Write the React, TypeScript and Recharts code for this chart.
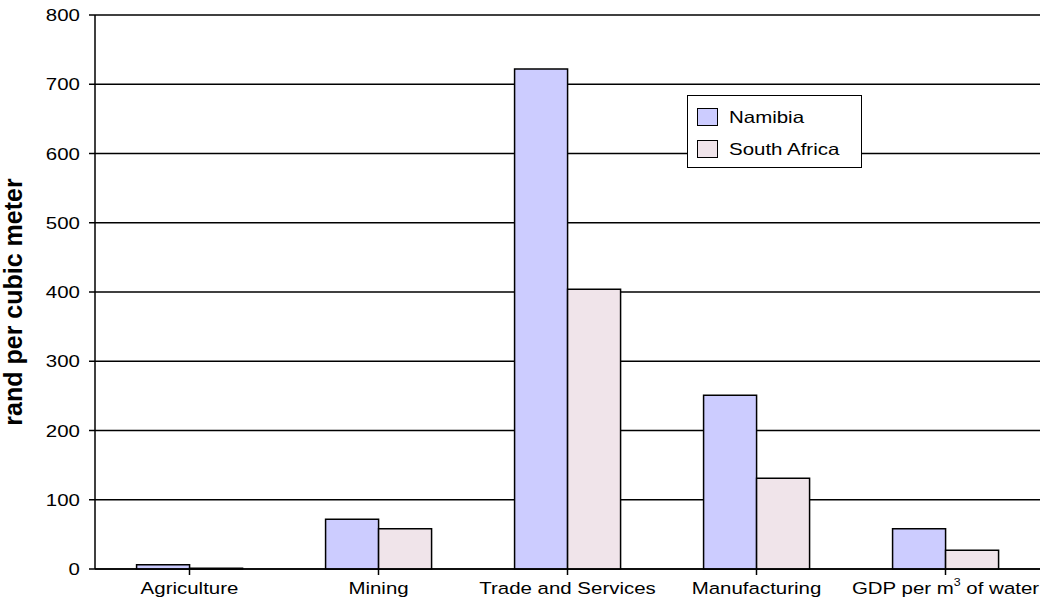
import React from "react"
import { BarChart, Bar, XAxis, YAxis, CartesianGrid } from "recharts"

const categories = ["Agriculture", "Mining", "Trade and Services", "Manufacturing", "GDP per m3 of water"]
const namibia = [6, 72, 722, 251, 58]
const southAfrica = [1, 58, 404, 131, 27]
const yTicks = [0, 100, 200, 300, 400, 500, 600, 700, 800]

const chartData = categories.map((name, i) => ({
  name,
  namibia: namibia[i],
  southAfrica: southAfrica[i],
}))

const FONT = "'Liberation Sans', Arial, sans-serif"
const STRETCH = 1.24

function XTick({ x, y, payload }: any) {
  const label: string = payload.value
  const isGdp = label.startsWith("GDP")
  return (
    <g transform={`translate(${x},${y + 14}) scale(${STRETCH},1)`}>
      <text textAnchor="middle" fontFamily={FONT} fontSize={16.5} fill="#000" dy={3}>
        {isGdp ? (
          <>
            <tspan>GDP per m</tspan>
            <tspan fontSize={10} dy={-8}>3</tspan>
            <tspan dy={8}> of water</tspan>
          </>
        ) : (
          label
        )}
      </text>
    </g>
  )
}

function YTick({ x, y, payload }: any) {
  return (
    <g transform={`translate(${x},${y}) scale(${STRETCH},1)`}>
      <text textAnchor="end" fontFamily={FONT} fontSize={16.5} fill="#000" dy={6}>
        {payload.value}
      </text>
    </g>
  )
}

function LegendBox() {
  const items = [
    { label: "Namibia", color: "#CCCCFF" },
    { label: "South Africa", color: "#F0E4EA" },
  ]
  return (
    <div
      style={{
        position: "absolute",
        left: 687,
        top: 95,
        width: 175,
        height: 73,
        border: "1.5px solid #000",
        background: "#fff",
        boxSizing: "border-box",
        paddingTop: 5,
        paddingLeft: 9,
        fontFamily: FONT,
      }}
    >
      {items.map((it) => (
        <div key={it.label} style={{ display: "flex", alignItems: "center", height: 32 }}>
          <span
            style={{
              width: 21,
              height: 18,
              background: it.color,
              border: "1.5px solid #000",
              boxSizing: "border-box",
              display: "inline-block",
            }}
          />
          <span
            style={{
              marginLeft: 11,
              fontSize: 16.5,
              display: "inline-block",
              transform: `scaleX(${STRETCH})`,
              transformOrigin: "left center",
              whiteSpace: "nowrap",
            }}
          >
            {it.label}
          </span>
        </div>
      ))}
    </div>
  )
}

export default function App() {
  return (
    <div style={{ position: "absolute", left: 0, top: 0, width: 1044, height: 605, background: "#fff" }}>
      <BarChart
        width={1044}
        height={605}
        data={chartData}
        margin={{ top: 15, right: 4, left: 0, bottom: 0 }}
        barCategoryGap="22%"
        barGap={0}
      >
        <CartesianGrid horizontal vertical={false} stroke="#000" strokeWidth={1.5} />
        <XAxis
          dataKey="name"
          height={36}
          tick={<XTick />}
          tickLine={{ stroke: "#000", strokeWidth: 1.5 }}
          axisLine={{ stroke: "#000", strokeWidth: 1.5 }}
          tickSize={6}
          interval={0}
        />
        <YAxis
          width={95}
          domain={[0, 800]}
          ticks={yTicks}
          tick={<YTick />}
          tickLine={{ stroke: "#000", strokeWidth: 1.5 }}
          axisLine={{ stroke: "#000", strokeWidth: 1.5 }}
          tickSize={6}
          tickMargin={9}
          label={{
            value: "rand per cubic meter",
            angle: -90,
            position: "insideLeft",
            dx: 8,
            dy: 10,
            style: { fontFamily: FONT, fontSize: 25, fontWeight: "bold", fill: "#000", textAnchor: "middle" },
          }}
        />
        <Bar dataKey="namibia" name="Namibia" fill="#CCCCFF" stroke="#000" strokeWidth={1.5} isAnimationActive={false} />
        <Bar dataKey="southAfrica" name="South Africa" fill="#F0E4EA" stroke="#000" strokeWidth={1.5} isAnimationActive={false} />
      </BarChart>
      <LegendBox />
    </div>
  )
}
